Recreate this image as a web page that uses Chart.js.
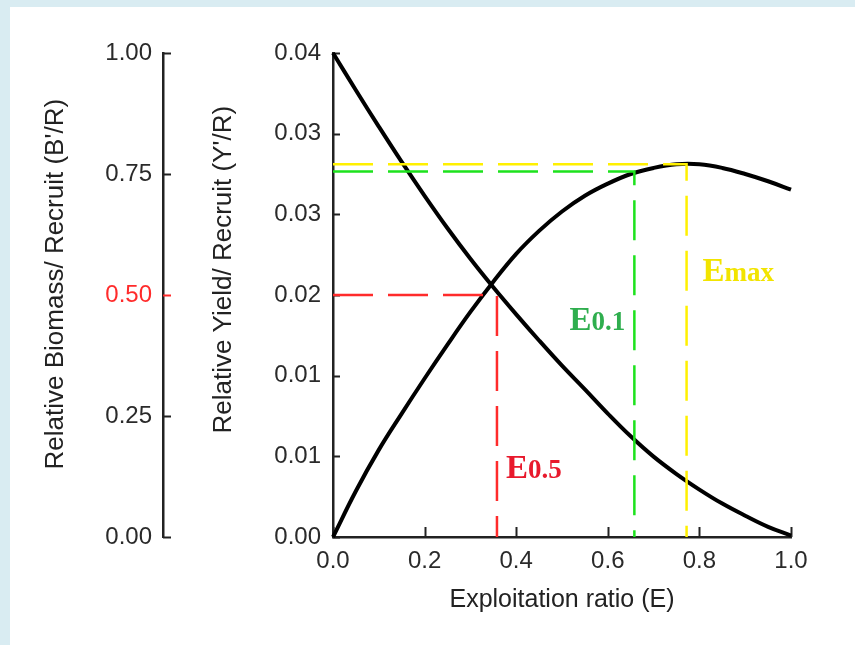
<!DOCTYPE html>
<html>
<head>
<meta charset="utf-8">
<title>Relative yield and biomass per recruit</title>
<script src="https://cdn.jsdelivr.net/npm/chart.js@4.4.0/dist/chart.umd.min.js"></script>
<style>
  html, body { margin: 0; padding: 0; }
  body { width: 855px; height: 645px; background: #d9ecf2; overflow: hidden; position: relative; }
  #panel { position: absolute; left: 10px; top: 7px; width: 845px; height: 638px; background: #fff; }
  canvas { display: block; }
</style>
</head>
<body>
<div id="panel"><canvas id="yprChart" width="845" height="638"></canvas></div>
<script>
// exploitation ratio E (x axis)
const exploitation = [0, 0.05, 0.10, 0.15, 0.20, 0.25, 0.30, 0.35, 0.40, 0.45, 0.50,
                      0.55, 0.60, 0.65, 0.70, 0.75, 0.80, 0.85, 0.90, 0.95, 1.00];

// relative yield per recruit Y'/R (inner left axis)
const yieldPerRecruit = [0, 0.0038, 0.0072, 0.0102, 0.0131, 0.0159, 0.0186, 0.0211, 0.0234, 0.0253, 0.0269,
                         0.0282, 0.0292, 0.0300, 0.0305, 0.0308, 0.0308, 0.0305, 0.0300, 0.0294, 0.0287];

// relative biomass per recruit B'/R (outer left axis)
const biomassPerRecruit = [1.000, 0.923, 0.848, 0.775, 0.705, 0.638, 0.575, 0.516, 0.460, 0.406, 0.354,
                           0.305, 0.255, 0.208, 0.166, 0.130, 0.098, 0.069, 0.044, 0.021, 0.003];

// reference points
const refSubscripts = ['0.5', '0.1', 'max'];
const refE = [0.358, 0.658, 0.772];
const refYield = [0.0200, 0.0302, 0.0308];

// tick values
const xTicks = [0, 0.2, 0.4, 0.6, 0.8, 1.0];
const yieldTicks = [0, 0.00667, 0.01333, 0.02, 0.02667, 0.03333, 0.04];
const biomassTicks = [0, 0.25, 0.5, 0.75, 1.0];

// styles
const lineColors = ['#ff2b2b', '#1de21d', '#fff000'];
const textColors = ['#e8192c', '#2fae4e', '#f2e400'];
const axisColor = '#222';
const labelColor = '#2a2a2a';
const tickFont = { family: '"Liberation Sans", Arial, sans-serif', size: 24 };
const titleFont = { family: '"Liberation Sans", Arial, sans-serif', size: 26 };

const refDatasets = refE.map((e, i) => ({
    label: 'E' + refSubscripts[i],
    yAxisID: 'yY',
    data: [{ x: 0, y: refYield[i] }, { x: e, y: refYield[i] }, { x: e, y: 0 }],
    borderColor: lineColors[i],
    borderWidth: 2.5,
    borderDash: [40, 15],
    pointRadius: 0,
    tension: 0,
    clip: false
}));

const curveDatasets = [
    {
        label: "Y'/R",
        yAxisID: 'yY',
        data: exploitation.map((e, i) => ({ x: e, y: yieldPerRecruit[i] })),
        borderColor: '#000',
        borderWidth: 4,
        pointRadius: 0,
        tension: 0.4,
        clip: false
    },
    {
        label: "B'/R",
        yAxisID: 'yB',
        data: exploitation.map((e, i) => ({ x: e, y: biomassPerRecruit[i] })),
        borderColor: '#000',
        borderWidth: 4,
        pointRadius: 0,
        tension: 0.4,
        clip: false
    }
];

// short inward tick marks and the E labels
const innerTicks = {
    id: 'innerTicks',
    beforeDatasetsDraw(chart) {
        const { ctx } = chart;
        const { x, yY, yB } = chart.scales;
        ctx.save();
        ctx.lineWidth = 2;
        xTicks.forEach(v => {
            const px = Math.round(x.getPixelForValue(v)) + 0.5;
            ctx.strokeStyle = axisColor;
            ctx.beginPath(); ctx.moveTo(px, x.top); ctx.lineTo(px, x.top - 10); ctx.stroke();
        });
        yieldTicks.forEach(v => {
            const py = Math.round(yY.getPixelForValue(v)) + 0.5;
            ctx.strokeStyle = axisColor;
            ctx.beginPath(); ctx.moveTo(yY.right, py); ctx.lineTo(yY.right + 7, py); ctx.stroke();
        });
        biomassTicks.forEach(v => {
            const py = Math.round(yB.getPixelForValue(v)) + 0.5;
            ctx.strokeStyle = v === 0.5 ? lineColors[0] : axisColor;
            ctx.beginPath(); ctx.moveTo(yB.right, py); ctx.lineTo(yB.right + 8, py); ctx.stroke();
        });
        ctx.restore();
    },
    afterDraw(chart) {
        const { ctx } = chart;
        const { x, yY } = chart.scales;
        // where each label sits next to its vertical line
        const placement = [
            { dx: 9, baseline: 0.00488, align: 'left' },
            { dx: -9, baseline: 0.01711, align: 'right' },
            { dx: 16, baseline: 0.02116, align: 'left' }
        ];
        const bigFont = 'bold 33px "Liberation Serif", "Times New Roman", serif';
        const smallFont = 'bold 27px "Liberation Serif", "Times New Roman", serif';
        ctx.save();
        ctx.textBaseline = 'alphabetic';
        ctx.textAlign = 'left';
        refE.forEach((e, i) => {
            const p = placement[i];
            ctx.font = bigFont;
            const wE = ctx.measureText('E').width;
            ctx.font = smallFont;
            const wSub = ctx.measureText(refSubscripts[i]).width;
            let left = x.getPixelForValue(e) + p.dx;
            if (p.align === 'right') left -= wE + wSub;
            const base = yY.getPixelForValue(p.baseline);
            ctx.fillStyle = textColors[i];
            ctx.font = bigFont;
            ctx.fillText('E', left, base);
            ctx.font = smallFont;
            ctx.fillText(refSubscripts[i], left + wE, base);
        });
        ctx.restore();
    }
};

new Chart(document.getElementById('yprChart'), {
    type: 'line',
    data: { datasets: refDatasets.concat(curveDatasets) },
    options: {
        responsive: false,
        animation: false,
        devicePixelRatio: 1,
        layout: { padding: { top: 46, right: 64, bottom: 0, left: 0 } },
        plugins: { legend: { display: false }, tooltip: { enabled: false } },
        scales: {
            x: {
                type: 'linear',
                position: 'bottom',
                min: 0,
                max: 1,
                afterBuildTicks: s => { s.ticks = xTicks.map(v => ({ value: v })); },
                afterFit: s => { s.height = 108; },
                ticks: {
                    autoSkip: false,
                    maxRotation: 0,
                    padding: 10,
                    color: labelColor,
                    font: tickFont,
                    callback: v => Number(v).toFixed(1)
                },
                grid: { display: false, drawTicks: false },
                border: { display: true, color: axisColor, width: 2.5 },
                title: {
                    display: true,
                    text: 'Exploitation ratio (E)',
                    color: '#222',
                    font: { family: titleFont.family, size: 25 },
                    padding: { top: 0, bottom: 30 }
                }
            },
            yY: {
                type: 'linear',
                position: 'left',
                weight: 0,
                min: 0,
                max: 0.04,
                afterBuildTicks: s => { s.ticks = yieldTicks.map(v => ({ value: v })); },
                afterFit: s => { s.width = 170; },
                ticks: {
                    autoSkip: false,
                    padding: 12,
                    color: labelColor,
                    font: tickFont,
                    callback: v => Number(v).toFixed(2)
                },
                grid: { display: false, drawTicks: false },
                border: { display: true, color: axisColor, width: 2.5 },
                title: {
                    display: true,
                    // leading spaces lift the title like in the original figure
                    text: "       Relative Yield/ Recruit (Y'/R)",
                    color: '#222',
                    font: titleFont,
                    padding: { top: 45, bottom: 0 }
                }
            },
            yB: {
                type: 'linear',
                position: 'left',
                weight: 1,
                min: 0,
                max: 1,
                afterBuildTicks: s => { s.ticks = biomassTicks.map(v => ({ value: v })); },
                afterFit: s => { s.width = 153; },
                ticks: {
                    autoSkip: false,
                    padding: 11,
                    color: c => (c.tick && c.tick.value === 0.5 ? lineColors[0] : labelColor),
                    font: tickFont,
                    callback: v => Number(v).toFixed(2)
                },
                grid: { display: false, drawTicks: false },
                border: { display: true, color: axisColor, width: 2.5 },
                title: {
                    display: true,
                    text: "   Relative Biomass/ Recruit (B'/R)",
                    color: '#222',
                    font: titleFont,
                    padding: { top: 30, bottom: 0 }
                }
            }
        }
    },
    plugins: [innerTicks]
});
</script>
</body>
</html>
